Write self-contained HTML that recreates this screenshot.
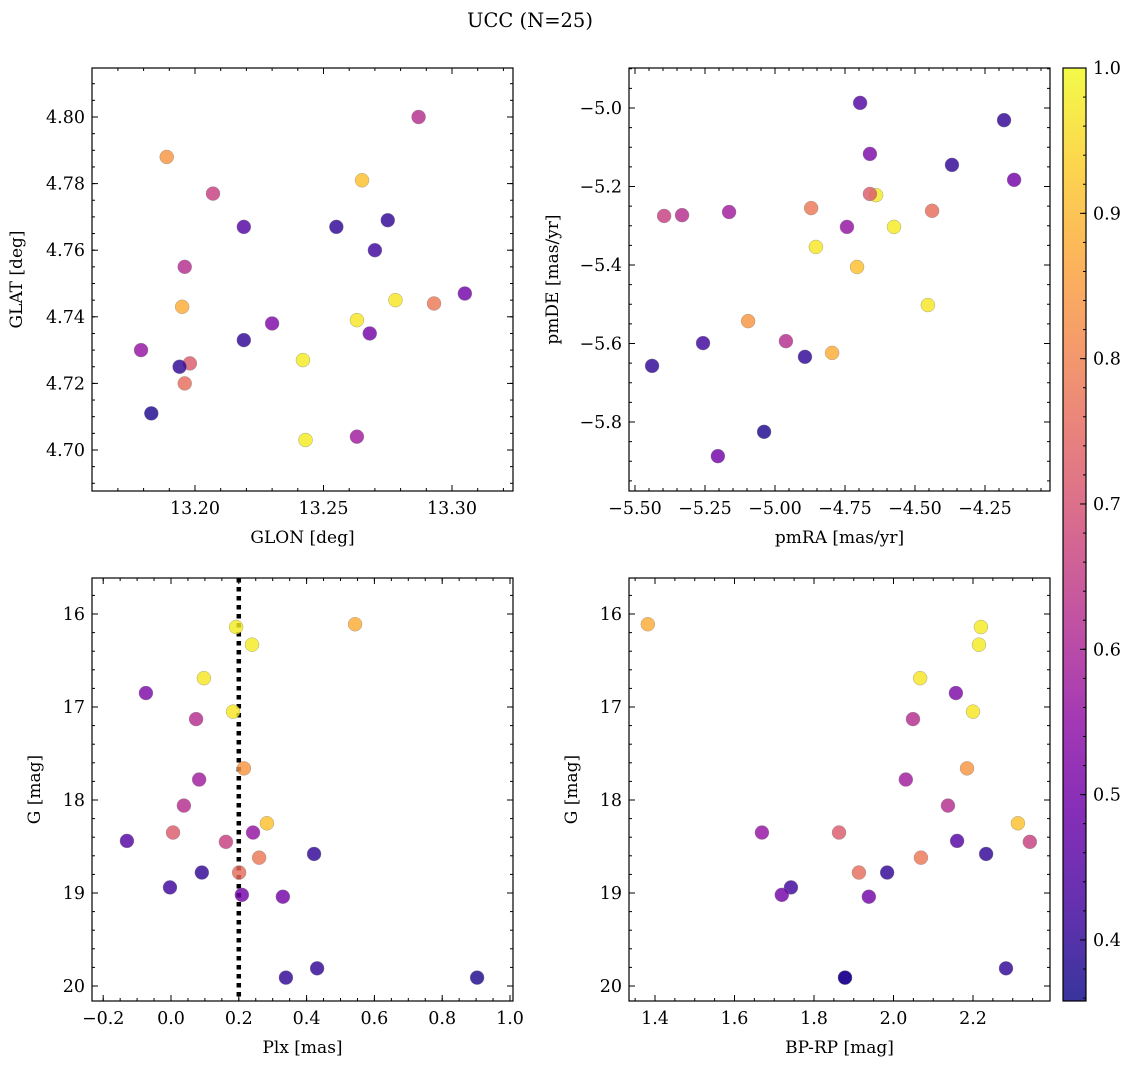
<!DOCTYPE html>
<html><head><meta charset="utf-8">
<style>
html,body{margin:0;padding:0;background:#fff;}
svg{display:block;font-family:"DejaVu Serif","Liberation Serif",serif;}
</style></head>
<body>
<svg id="fig" width="1135" height="1068" viewBox="0 0 1135 1068" xmlns="http://www.w3.org/2000/svg">
<text x="530" y="27" font-size="19.5" text-anchor="middle">UCC (N=25)</text>
</svg>
<script>
// star data (one entry per star)
const glon = [13.242,13.243,13.195,13.278,13.230,13.287,13.263,13.189,13.263,13.196,13.265,13.198,13.179,13.207,13.219,13.293,13.255,13.196,13.275,13.270,13.268,13.305,13.219,13.194,13.183];
const glat = [4.727,4.703,4.743,4.745,4.738,4.800,4.739,4.788,4.704,4.755,4.781,4.726,4.730,4.777,4.767,4.744,4.767,4.720,4.769,4.760,4.735,4.747,4.733,4.725,4.711];
const pmra = [-4.639,-4.575,-4.796,-4.854,-4.661,-5.332,-4.454,-5.096,-5.164,-4.961,-4.707,-4.661,-4.743,-5.396,-4.696,-4.871,-4.182,-4.439,-4.368,-5.257,-4.146,-5.204,-4.893,-5.439,-5.039];
const pmde = [-5.222,-5.303,-5.624,-5.354,-5.117,-5.273,-5.502,-5.543,-5.265,-5.594,-5.405,-5.219,-5.303,-5.275,-4.987,-5.255,-5.031,-5.262,-5.145,-5.599,-5.183,-5.887,-5.634,-5.657,-5.825];
const plx = [0.192,0.239,0.543,0.097,-0.074,0.074,0.183,0.215,0.083,0.038,0.283,0.006,0.242,0.162,-0.130,0.260,0.422,0.201,0.091,-0.003,0.209,0.330,0.431,0.339,0.903];
const bprp = [2.220,2.215,1.382,2.067,2.157,2.049,2.200,2.185,2.031,2.137,2.313,1.863,1.669,2.343,2.160,2.069,2.233,1.913,1.984,1.742,1.719,1.938,2.283,1.878,1.878];
const gmag = [16.14,16.33,16.11,16.69,16.85,17.13,17.05,17.66,17.78,18.06,18.25,18.35,18.35,18.45,18.44,18.62,18.58,18.78,18.78,18.94,19.02,19.04,19.81,19.91,19.91];
const prob = [0.98,0.98,0.88,0.97,0.52,0.62,0.97,0.84,0.58,0.62,0.91,0.72,0.56,0.66,0.45,0.78,0.40,0.76,0.40,0.42,0.50,0.50,0.40,0.40,0.38];
const plxLine = 0.2;
const cbMin = 0.358, cbMax = 1.0;
const cbTicks = [0.4,0.5,0.6,0.7,0.8,0.9,1.0];

const NS = "http://www.w3.org/2000/svg";
const svg = document.getElementById('fig');
function el(tag, attrs, parent){
  const e = document.createElementNS(NS, tag);
  for (const k in attrs) e.setAttribute(k, attrs[k]);
  (parent||svg).appendChild(e);
  return e;
}
const plasma = [[13,8,135],[65,4,157],[106,0,168],[143,13,164],[177,42,144],[204,71,120],[225,100,98],[242,132,75],[252,166,54],[252,206,37],[240,249,33]];
function cmap(v){
  let t = (v-cbMin)/(cbMax-cbMin); t=Math.max(0,Math.min(1,t));
  const f=t*10, i=Math.min(9,Math.floor(f)), r=f-i;
  const a=plasma[i], b=plasma[i+1];
  return 'rgb('+a.map((c,k)=>Math.round(c+(b[k]-c)*r)).join(',')+')';
}
function fmt(v,d){ const s=v.toFixed(d); return v<0? '\u2212'+s.slice(1): s; }

const TF = 17.5, LF = 17;
const panels = [
  {name:'glon-glat', x0:92,x1:513,y0:68,y1:491, xs:v=>195+(v-13.20)*2570, ys:v=>117+(4.80-v)*3330,
   xmaj:[13.20,13.25,13.30], xmin:[13.16,13.33,0.01], xd:2, ymaj:[4.70,4.72,4.74,4.76,4.78,4.80], ymin:[4.685,4.815,0.005], yd:2,
   xl:'GLON [deg]', yl:'GLAT [deg]', ylx:22, xv:glon, yv:glat},
  {name:'pmra-pmde', x0:629,x1:1050,y0:68,y1:491, xs:v=>775+(v+5)*280, ys:v=>108+(-5-v)*392.5,
   xmaj:[-5.5,-5.25,-5.0,-4.75,-4.5,-4.25], xmin:[-5.5,-4.0,0.05], xd:2, ymaj:[-5.8,-5.6,-5.4,-5.2,-5.0], ymin:[-6.0,-4.9,0.05], yd:1,
   xl:'pmRA [mas/yr]', yl:'pmDE [mas/yr]', ylx:558, xv:pmra, yv:pmde},
  {name:'plx-g', x0:92,x1:513,y0:578,y1:1001, xs:v=>171+v*339, ys:v=>614+(v-16)*93,
   xmaj:[-0.2,0,0.2,0.4,0.6,0.8,1.0], xmin:[-0.25,1.05,0.05], xd:1, ymaj:[16,17,18,19,20], ymin:[15.6,20.2,0.2], yd:0,
   xl:'Plx [mas]', yl:'G [mag]', ylx:40, xv:plx, yv:gmag},
  {name:'bprp-g', x0:629,x1:1050,y0:578,y1:1001, xs:v=>655+(v-1.4)*397.5, ys:v=>614+(v-16)*93,
   xmaj:[1.4,1.6,1.8,2.0,2.2], xmin:[1.3,2.4,0.05], xd:1, ymaj:[16,17,18,19,20], ymin:[15.6,20.2,0.2], yd:0,
   xl:'BP-RP [mag]', yl:'G [mag]', ylx:577, xv:bprp, yv:gmag}
];

panels.forEach(P=>{
  const g = el('g',{});
  
  
  const ax = el('g',{stroke:'#000','stroke-width':1}, g);
  
  
  for (let v=P.xmin[0]; v<=P.xmin[1]+1e-9; v+=P.xmin[2]){
    const x=P.xs(v); if (x<=P.x0+0.5||x>=P.x1-0.5) continue;
    el('line',{x1:x,x2:x,y1:P.y1,y2:P.y1-3},ax); el('line',{x1:x,x2:x,y1:P.y0,y2:P.y0+3},ax);
  }
  for (let v=P.ymin[0]; v<=P.ymin[1]+1e-9; v+=P.ymin[2]){
    const y=P.ys(v); if (y<=P.y0+0.5||y>=P.y1-0.5) continue;
    el('line',{x1:P.x0,x2:P.x0+3,y1:y,y2:y},ax); el('line',{x1:P.x1,x2:P.x1-3,y1:y,y2:y},ax);
  }
  P.xmaj.forEach(v=>{
    const x=P.xs(v);
    el('line',{x1:x,x2:x,y1:P.y1,y2:P.y1-6},ax); el('line',{x1:x,x2:x,y1:P.y0,y2:P.y0+6},ax);
    const t=el('text',{x:x,y:P.y1+23,'font-size':TF,'text-anchor':'middle'},g); t.textContent=fmt(v,P.xd);
    
    
  });
  P.ymaj.forEach(v=>{
    const y=P.ys(v);
    el('line',{x1:P.x0,x2:P.x0+6,y1:y,y2:y},ax); el('line',{x1:P.x1,x2:P.x1-6,y1:y,y2:y},ax);
    const t=el('text',{x:P.x0-7,y:y+6,'font-size':TF,'text-anchor':'end'},g); t.textContent=fmt(v,P.yd);
    
    
  });
  const xl=el('text',{x:(P.x0+P.x1)/2,y:P.y1+52,'font-size':LF,'text-anchor':'middle'},g); xl.textContent=P.xl;
  
  
  const yc=(P.y0+P.y1)/2;
  const yl=el('text',{x:P.ylx,y:yc,'font-size':LF,'text-anchor':'middle',transform:'rotate(-90 '+P.ylx+' '+yc+')'},g); yl.textContent=P.yl;
  
  
  if (P.name==='plx-g'){
    const ln=el('line',{x1:P.xs(plxLine),x2:P.xs(plxLine),y1:P.y0,y2:P.y1,stroke:'#000','stroke-width':4.5,'stroke-dasharray':'4.5 4.5'},g);
    
    
  }
  P.xv.forEach((xv,i)=>{
    const c=el('circle',{cx:P.xs(xv),cy:P.ys(P.yv[i]),r:7,fill:cmap(prob[i]),'fill-opacity':0.82,stroke:'#888','stroke-width':0.5,'stroke-opacity':0.7},g);
    
    
  });
  const fr=el('rect',{x:P.x0,y:P.y0,width:P.x1-P.x0,height:P.y1-P.y0,fill:'none',stroke:'#000','stroke-width':1.2},g);
  
  
});

const cb = el('g',{});


const defs = el('defs',{},cb);
const lg = el('linearGradient',{id:'cbg',x1:0,y1:1,x2:0,y2:0},defs);
for (let k=0;k<=20;k++){
  const v=cbMin+(cbMax-cbMin)*k/20;
  el('stop',{offset:(k/20),'stop-color':cmap(v)},lg);
}
const cy0=68, cy1=1001, cx0=1063, cx1=1086;
const cys=v=>cy1-(v-cbMin)/(cbMax-cbMin)*(cy1-cy0);
el('rect',{x:cx0,y:cy0,width:cx1-cx0,height:cy1-cy0,fill:'url(#cbg)','fill-opacity':0.82},cb);
for (let v=0.36; v<=1.0001; v+=0.02){
  const y=cys(v); if (y<=cy0+0.5||y>=cy1-0.5) continue;
  el('line',{x1:cx1,x2:cx1-3,y1:y,y2:y,stroke:'#000'},cb);
}
cbTicks.forEach(v=>{
  const y=cys(v);
  el('line',{x1:cx1,x2:cx1-6,y1:y,y2:y,stroke:'#000'},cb);
  const t=el('text',{x:cx1+7,y:y+6,'font-size':TF},cb); t.textContent=v.toFixed(1);
  
  
});
el('rect',{x:cx0,y:cy0,width:cx1-cx0,height:cy1-cy0,fill:'none',stroke:'#000','stroke-width':1.2},cb);
</script>
</body></html>
